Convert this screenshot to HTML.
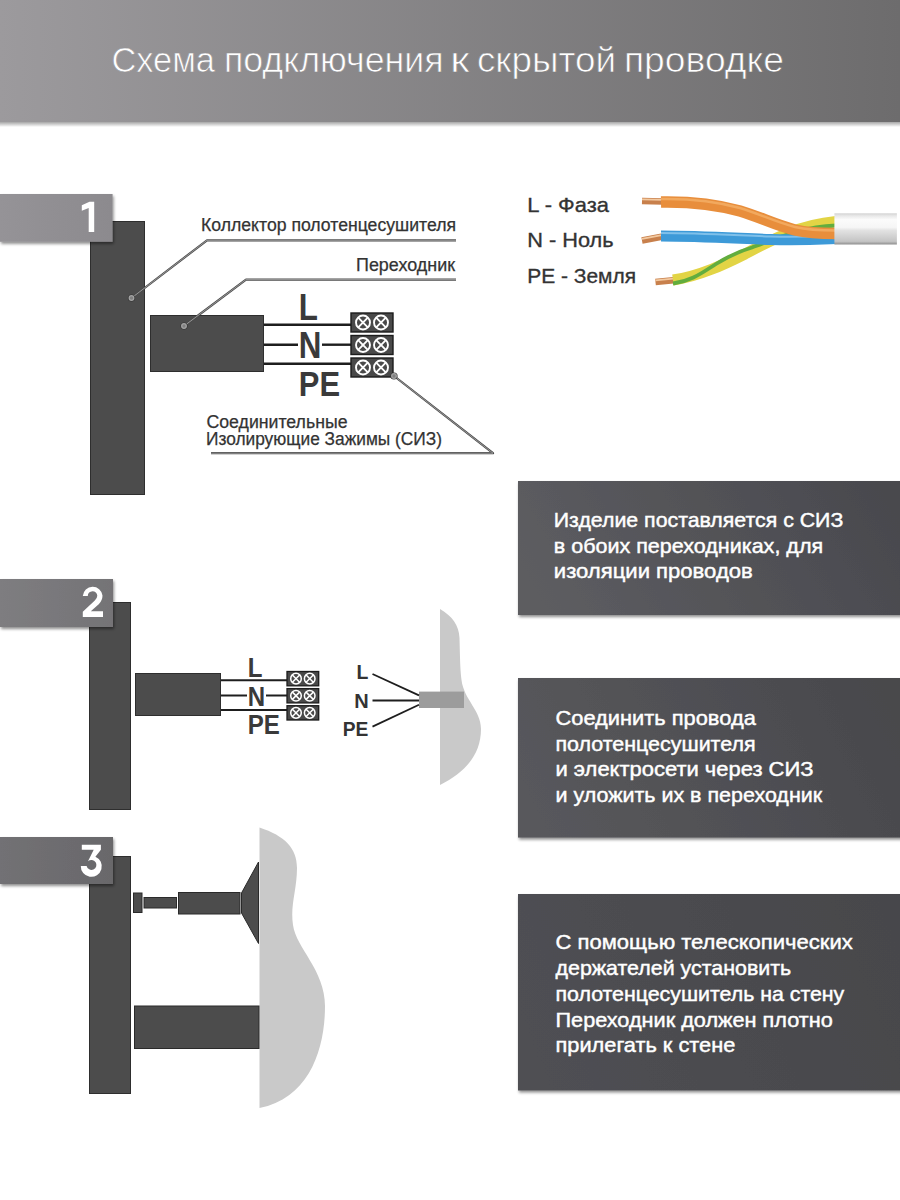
<!DOCTYPE html>
<html><head><meta charset="utf-8">
<style>
html,body{margin:0;padding:0;background:#fff;}
body{width:900px;height:1200px;overflow:hidden;position:relative;font-family:"Liberation Sans",sans-serif;}
svg{position:absolute;left:0;top:0;}
</style></head>
<body>
<svg width="900" height="1200" viewBox="0 0 900 1200" font-family="Liberation Sans, sans-serif">
<defs>
  <linearGradient id="hdrU" gradientUnits="userSpaceOnUse" x1="0" y1="0" x2="900" y2="0">
    <stop offset="0" stop-color="#9c9a9d"/>
    <stop offset="1" stop-color="#6d6c6d"/>
  </linearGradient>
  <linearGradient id="hdr" x1="0" y1="0" x2="1" y2="0">
    <stop offset="0" stop-color="#9c9a9d"/>
    <stop offset="1" stop-color="#6d6c6d"/>
  </linearGradient>
  <linearGradient id="shd" x1="0" y1="0" x2="0" y2="1">
    <stop offset="0" stop-color="#000" stop-opacity="0.35"/>
    <stop offset="1" stop-color="#000" stop-opacity="0"/>
  </linearGradient>
  <linearGradient id="boxA" x1="0" y1="0.6" x2="1" y2="0.4">
    <stop offset="0" stop-color="#5d5d61"/>
    <stop offset="1" stop-color="#49494e"/>
  </linearGradient>
  <linearGradient id="boxB" x1="0" y1="0.6" x2="1" y2="0.4">
    <stop offset="0" stop-color="#58585c"/>
    <stop offset="1" stop-color="#48484c"/>
  </linearGradient>
  <linearGradient id="boxC" x1="0" y1="0.6" x2="1" y2="0.4">
    <stop offset="0" stop-color="#4f4f53"/>
    <stop offset="1" stop-color="#47474b"/>
  </linearGradient>
  <linearGradient id="lb1" x1="0" y1="0" x2="1" y2="0">
    <stop offset="0" stop-color="#959397"/>
    <stop offset="1" stop-color="#8c8a8e"/>
  </linearGradient>
  <linearGradient id="lb2" x1="0" y1="0" x2="1" y2="0">
    <stop offset="0" stop-color="#7e7d80"/>
    <stop offset="1" stop-color="#747376"/>
  </linearGradient>
  <linearGradient id="lb3" x1="0" y1="0" x2="1" y2="0">
    <stop offset="0" stop-color="#727174"/>
    <stop offset="1" stop-color="#69686b"/>
  </linearGradient>
  <filter id="ds" x="-10%" y="-10%" width="120%" height="140%">
    <feGaussianBlur in="SourceAlpha" stdDeviation="1.5"/>
    <feOffset dx="1" dy="2"/>
    <feComponentTransfer><feFuncA type="linear" slope="0.45"/></feComponentTransfer>
    <feMerge><feMergeNode/><feMergeNode in="SourceGraphic"/></feMerge>
  </filter>
  <g id="term">
    <rect x="0" y="0" width="42" height="19" fill="#494949" stroke="#1c1c1c" stroke-width="1.4"/>
    <g fill="none" stroke="#fff" stroke-width="1.9">
      <circle cx="12" cy="9.5" r="7"/><path d="M7.2 4.7 L16.8 14.3 M16.8 4.7 L7.2 14.3"/>
      <circle cx="30" cy="9.5" r="7"/><path d="M25.2 4.7 L34.8 14.3 M34.8 4.7 L25.2 14.3"/>
    </g>
  </g>
  <g id="term2">
    <rect x="0" y="0" width="31.7" height="14.3" fill="#494949" stroke="#1c1c1c" stroke-width="1.3"/>
    <g fill="none" stroke="#fff" stroke-width="1.5">
      <circle cx="9" cy="7.15" r="5.3"/><path d="M5.4 3.55 L12.6 10.75 M12.6 3.55 L5.4 10.75"/>
      <circle cx="22.7" cy="7.15" r="5.3"/><path d="M19.1 3.55 L26.3 10.75 M26.3 3.55 L19.1 10.75"/>
    </g>
  </g>
</defs>

<!-- header -->
<rect x="0" y="122" width="900" height="5" fill="url(#shd)"/>
<rect x="0" y="120.5" width="900" height="1.5" fill="#000" fill-opacity="0.12"/>
<rect x="0" y="0" width="900" height="122" fill="url(#hdr)"/>
<g font-size="35" fill="#fff" stroke="url(#hdrU)" stroke-width="0.7">
  <text x="111.5" y="72" textLength="103.5" lengthAdjust="spacingAndGlyphs">Схема</text>
  <text x="223.9" y="72" textLength="219.7" lengthAdjust="spacingAndGlyphs">подключения</text>
  <text x="450.1" y="72" textLength="19.5" lengthAdjust="spacingAndGlyphs">к</text>
  <text x="476.9" y="72" textLength="139.1" lengthAdjust="spacingAndGlyphs">скрытой</text>
  <text x="623.9" y="72" textLength="160.1" lengthAdjust="spacingAndGlyphs">проводке</text>
</g>

<!-- ===== Section 1 ===== -->
<rect x="90.5" y="221.5" width="54" height="273" fill="#4c4c4c" stroke="#2e2e2e" stroke-width="1"/>
<rect x="0" y="194" width="112.6" height="47.8" fill="url(#lb1)" filter="url(#ds)"/>
<path d="M81.8 205.2 L89.5 201.7 L94.2 201.7 L94.2 231.9 L88.7 231.9 L88.7 207.9 L81.8 210.8 Z" fill="#fff"/>

<rect x="150.5" y="315.5" width="113" height="56" fill="#4c4c4c" stroke="#2e2e2e" stroke-width="1"/>
<g stroke="#1e1e1e" stroke-width="2.4">
  <line x1="264" y1="324.7" x2="351" y2="324.7"/>
  <line x1="264" y1="344.7" x2="298" y2="344.7"/>
  <line x1="322" y1="344.7" x2="351" y2="344.7"/>
  <line x1="264" y1="363.8" x2="351" y2="363.8"/>
</g>
<g font-weight="bold" font-size="36" fill="#3a3a3a">
  <text transform="translate(301,0) scale(0.87,1)" x="-2.6" y="320">L</text>
  <text transform="translate(301,0) scale(0.87,1)" x="-2.6" y="358">N</text>
  <text transform="translate(301,0) scale(0.86,1)" x="-2.6" y="396">PE</text>
</g>
<use href="#term" x="351" y="313"/>
<use href="#term" x="351" y="335.5"/>
<use href="#term" x="351" y="358"/>

<!-- leaders -->
<g fill="none" stroke-linejoin="round">
  <g stroke="#4a4a4a" stroke-width="2.2">
    <polyline points="131.5,298 207,240.3 456,240.3"/>
    <polyline points="184,326 246,279.6 456,279.6"/>
    <polyline points="394,376 493,453.2 211,453.2"/>
  </g>
  <g stroke="#a0a0a0" stroke-width="0.9">
    <polyline points="131.5,298 207,240.3 456,240.3"/>
    <polyline points="184,326 246,279.6 456,279.6"/>
    <polyline points="394,376 493,453.2 211,453.2"/>
  </g>
</g>
<g>
  <circle cx="131.5" cy="298" r="3.6" fill="#333"/>
  <circle cx="184" cy="326" r="3.6" fill="#333"/>
  <circle cx="394" cy="376" r="3.6" fill="#333"/>
  <g fill="#808080" stroke="#a4a4a4" stroke-width="1.3">
    <circle cx="131.5" cy="298" r="2.3"/>
    <circle cx="184" cy="326" r="2.3"/>
    <circle cx="394" cy="376" r="2.3"/>
  </g>
</g>
<g font-size="17.5" fill="#333" stroke="#333" stroke-width="0.25">
  <text x="201" y="230.6" textLength="255" lengthAdjust="spacingAndGlyphs">Коллектор полотенцесушителя</text>
  <text x="356" y="271" textLength="99" lengthAdjust="spacingAndGlyphs">Переходник</text>
  <text x="206.5" y="427.7" textLength="141" lengthAdjust="spacingAndGlyphs">Соединительные</text>
  <text x="206" y="445.4" textLength="236" lengthAdjust="spacingAndGlyphs">Изолирующие Зажимы (СИЗ)</text>
</g>

<!-- cable -->
<g font-size="21" fill="#333" stroke="#333" stroke-width="0.35">
  <text x="527.2" y="212.3" textLength="81.8" lengthAdjust="spacingAndGlyphs">L - Фаза</text>
  <text x="527.2" y="247" textLength="86.3" lengthAdjust="spacingAndGlyphs">N - Ноль</text>
  <text x="527.2" y="283" textLength="108.8" lengthAdjust="spacingAndGlyphs">PE - Земля</text>
</g>
<g fill="none" stroke-linecap="butt">
  <!-- copper tips -->
  <g stroke="#c8804c" stroke-width="6.5">
    <line x1="642" y1="201" x2="663" y2="201.5"/>
    <line x1="642" y1="240.5" x2="663" y2="236.5"/>
    <line x1="655.5" y1="282" x2="676" y2="280"/>
  </g>
  <g stroke="#f3c9a0" stroke-width="1.8">
    <line x1="642" y1="199.3" x2="663" y2="199.8"/>
    <line x1="642" y1="238.8" x2="663" y2="234.8"/>
    <line x1="655.5" y1="280.3" x2="676" y2="278.3"/>
  </g>
  <!-- yellow-green -->
  <path d="M673 280 C700 276 725 264 745 254 C775 238 800 225 836 221.5" stroke="#e2d445" stroke-width="11"/>
  <path d="M673 283.5 C692 281 703 272 716 264 C728 256.5 740 251 752 247.5 C785 235 805 227 836 225.5" stroke="#62ad3e" stroke-width="3.8"/>
  <!-- blue -->
  <path d="M661 236 C700 236 740 238.5 770 239.5 C800 240.5 815 239.5 836 238.5" stroke="#3d9ad8" stroke-width="11"/>
  <path d="M661 233 C700 233 740 235.5 770 236.5 C800 237.5 815 236.5 836 235.5" stroke="#7fc0ea" stroke-width="2"/>
  <!-- orange -->
  <path d="M661 202 C690 201.5 715 204 740 211 C760 217 775 225 795 230 C810 233.5 822 233.5 836 233.5" stroke="#e88e3c" stroke-width="11.5"/>
  <path d="M661 199 C690 198.5 715 201 740 208 C760 214 775 222 795 227 C810 230.5 822 230.5 836 230.5" stroke="#f2a95e" stroke-width="2.4"/>
</g>
<defs>
  <linearGradient id="jk" x1="0" y1="0" x2="0" y2="1">
    <stop offset="0" stop-color="#d2d2d2"/>
    <stop offset="0.08" stop-color="#e8e8e8"/>
    <stop offset="0.2" stop-color="#fbfbfb"/>
    <stop offset="0.45" stop-color="#f6f6f6"/>
    <stop offset="0.55" stop-color="#e2e2e2"/>
    <stop offset="0.9" stop-color="#c4c4c4"/>
    <stop offset="1" stop-color="#8e8e8e"/>
  </linearGradient>
</defs>
<rect x="834.4" y="213.3" width="62.5" height="31.2" fill="url(#jk)"/>

<!-- info box 1 -->
<rect x="518" y="481" width="390" height="134" fill="url(#boxA)" filter="url(#ds)"/>
<g font-size="21" fill="#fff" stroke="#fff" stroke-width="0.45">
  <text x="553.8" y="526.9" textLength="289.5" lengthAdjust="spacingAndGlyphs">Изделие поставляется с СИЗ</text>
  <text x="553.8" y="552.6" textLength="269.3" lengthAdjust="spacingAndGlyphs">в обоих переходниках, для</text>
  <text x="553.8" y="578.3" textLength="199" lengthAdjust="spacingAndGlyphs">изоляции проводов</text>
</g>

<!-- ===== Section 2 ===== -->
<rect x="89.5" y="602.5" width="41" height="207" fill="#4c4c4c" stroke="#2e2e2e" stroke-width="1"/>
<rect x="0" y="579" width="113" height="48" fill="url(#lb2)" filter="url(#ds)"/>
<path d="M82.8 596 A9.9 9.9 0 0 1 102.5 595.5 Q102.5 600 99 604 L90.8 611.2 H103 V617 H82.8 V611.8 L94.8 600.5 Q97.3 598 97.3 595.8 A4.75 4.75 0 0 0 87.8 596 Z" fill="#fff"/>

<rect x="135.5" y="673.5" width="85" height="42" fill="#4c4c4c" stroke="#2e2e2e" stroke-width="1"/>
<g stroke="#1e1e1e" stroke-width="2">
  <line x1="221" y1="680.3" x2="287" y2="680.3"/>
  <line x1="221" y1="695.5" x2="247" y2="695.5"/>
  <line x1="266" y1="695.5" x2="287" y2="695.5"/>
  <line x1="221" y1="710" x2="287" y2="710"/>
</g>
<g font-weight="bold" font-size="28" fill="#3a3a3a">
  <text transform="translate(249.5,0) scale(0.86,1)" x="-2" y="677">L</text>
  <text transform="translate(249.5,0) scale(0.86,1)" x="-2" y="706">N</text>
  <text transform="translate(249.5,0) scale(0.86,1)" x="-2" y="734">PE</text>
</g>
<use href="#term2" x="287" y="671.5"/>
<use href="#term2" x="287" y="688.6"/>
<use href="#term2" x="287" y="705.7"/>

<!-- wall 2 -->
<path d="M440 609 C452 616 459 625 459.5 638 C460 655 460 668 461.5 680 C464 700 481 710 481 729 C481 754 466 772 440 785 Z" fill="#c9c9c9"/>
<rect x="419" y="691.6" width="45" height="16.4" fill="#9c9c9c"/>
<g stroke="#1e1e1e" stroke-width="1.8">
  <line x1="372.5" y1="674" x2="419" y2="695.4"/>
  <line x1="372.5" y1="700.5" x2="419" y2="700.5"/>
  <line x1="372.5" y1="726.6" x2="419" y2="704.8"/>
</g>
<g font-weight="bold" font-size="20" fill="#333" text-anchor="end">
  <text transform="translate(368.3,0) scale(0.97,1)" x="0" y="679.3">L</text>
  <text transform="translate(368.6,0) scale(1,1)" x="0" y="708">N</text>
  <text transform="translate(368.3,0) scale(0.96,1)" x="0" y="735.6">PE</text>
</g>

<!-- info box 2 -->
<rect x="518" y="678" width="390" height="159.6" fill="url(#boxB)" filter="url(#ds)"/>
<g font-size="21" fill="#fff" stroke="#fff" stroke-width="0.45">
  <text x="555.5" y="725.2" textLength="200.3" lengthAdjust="spacingAndGlyphs">Соединить провода</text>
  <text x="555.5" y="750.9" textLength="200.0" lengthAdjust="spacingAndGlyphs">полотенцесушителя</text>
  <text x="555.5" y="776.0" textLength="257.99999999999994" lengthAdjust="spacingAndGlyphs">и электросети через СИЗ</text>
  <text x="555.5" y="801.8" textLength="266.59999999999997" lengthAdjust="spacingAndGlyphs">и уложить их в переходник</text>
</g>

<!-- ===== Section 3 ===== -->
<rect x="89.5" y="856.5" width="41" height="237" fill="#4c4c4c" stroke="#2e2e2e" stroke-width="1"/>
<rect x="0" y="837" width="113" height="47" fill="url(#lb3)" filter="url(#ds)"/>
<path d="M81.8 844.8 H100.9 V849.7 L95.4 856.7 A10.5 10.5 0 1 1 80.8 866 H86.6 A5 5 0 1 0 88 861.3 L93.7 849.7 H81.8 Z" fill="#fff"/>

<path d="M259.5 827.5 C285 836 297 848 297 868 C297 890 290 905 293 925 C296 948 325 970 325 1006 C325 1048 310 1098 259.5 1108 Z" fill="#c9c9c9"/>
<g fill="#4c4c4c" stroke="#2a2a2a" stroke-width="1">
  <rect x="133.5" y="893" width="8.5" height="19.5"/>
  <rect x="144" y="897.5" width="32.5" height="10.5"/>
  <rect x="178.5" y="892.5" width="61.5" height="21.5"/>
  <path d="M241.5 893 L258.5 862 L258.5 943.5 L241.5 913 Z"/>
  <rect x="134.5" y="1006" width="124.5" height="42.5"/>
</g>

<!-- info box 3 -->
<rect x="518" y="894" width="390" height="196.5" fill="url(#boxC)" filter="url(#ds)"/>
<g font-size="21" fill="#fff" stroke="#fff" stroke-width="0.45">
  <text x="555.5" y="949.2" textLength="297.20000000000005" lengthAdjust="spacingAndGlyphs">С помощью телескопических</text>
  <text x="555.5" y="975.0" textLength="235.70000000000005" lengthAdjust="spacingAndGlyphs">держателей установить</text>
  <text x="555.5" y="1000.8" textLength="288.79999999999995" lengthAdjust="spacingAndGlyphs">полотенцесушитель на стену</text>
  <text x="555.5" y="1026.6" textLength="277.29999999999995" lengthAdjust="spacingAndGlyphs">Переходник должен плотно</text>
  <text x="555.5" y="1052.4" textLength="179.79999999999995" lengthAdjust="spacingAndGlyphs">прилегать к стене</text>
</g>
</svg>
</body></html>
